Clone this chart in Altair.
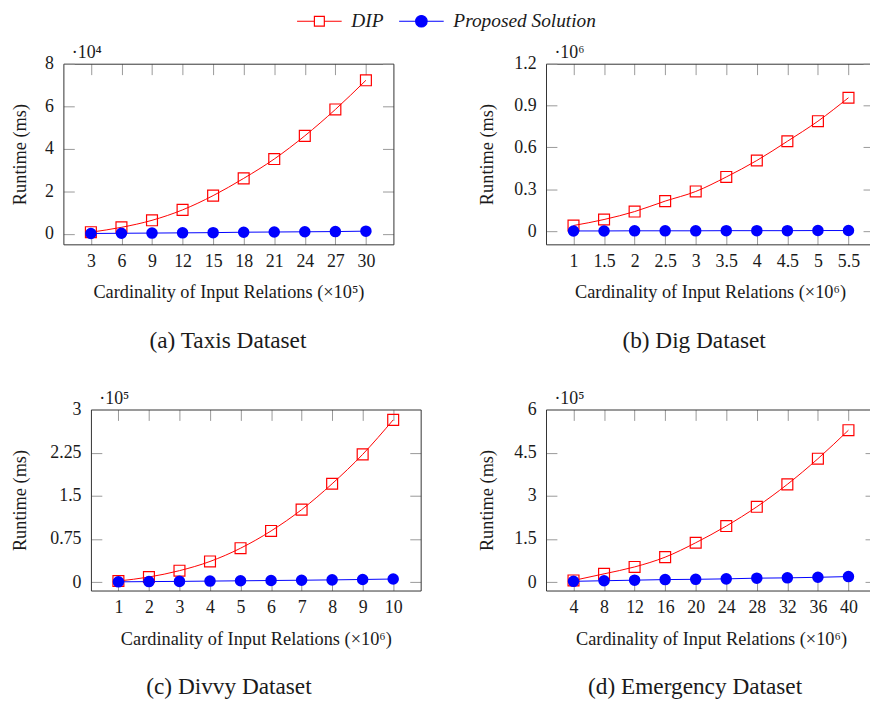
import altair as alt
import pandas as pd

SERIES = ["DIP", "Proposed Solution"]
RED = "#ff0000"
BLUE = "#0000ff"
FONT = "Liberation Serif"
TXT = "#1a1a1a"

# (a) Taxis dataset, runtime in units of 10^4 ms
taxis_x = [3, 6, 9, 12, 15, 18, 21, 24, 27, 30]
taxis_dip = [0.08, 0.31, 0.64, 1.13, 1.80, 2.61, 3.52, 4.61, 5.85, 7.22]
taxis_prop = [0.02, 0.03, 0.04, 0.05, 0.06, 0.08, 0.09, 0.10, 0.11, 0.13]

# (b) Dig dataset, runtime in units of 10^6 ms
dig_x = [1, 1.5, 2, 2.5, 3, 3.5, 4, 4.5, 5, 5.5]
dig_dip = [0.040, 0.083, 0.140, 0.215, 0.284, 0.388, 0.506, 0.644, 0.788, 0.956]
dig_prop = [0.001, 0.001, 0.002, 0.002, 0.002, 0.003, 0.003, 0.003, 0.004, 0.004]

# (c) Divvy dataset, runtime in units of 10^5 ms
divvy_x = [1, 2, 3, 4, 5, 6, 7, 8, 9, 10]
divvy_dip = [0.02, 0.09, 0.20, 0.36, 0.59, 0.89, 1.26, 1.71, 2.22, 2.82]
divvy_prop = [0.006, 0.010, 0.014, 0.019, 0.024, 0.029, 0.034, 0.040, 0.047, 0.055]

# (d) Emergency dataset, runtime in units of 10^5 ms
emerg_x = [4, 8, 12, 16, 20, 24, 28, 32, 36, 40]
emerg_dip = [0.06, 0.29, 0.53, 0.87, 1.37, 1.95, 2.62, 3.40, 4.29, 5.28]
emerg_prop = [0.03, 0.05, 0.07, 0.09, 0.10, 0.115, 0.14, 0.15, 0.17, 0.195]

# legend symbols: line with a marker (custom paths, unit = sqrt(size)/2 px)
DIP_PATH = "M-1,0H1.5M2.93,0H5.43M1.5,-0.714H2.93V0.714H1.5Z"
PROP_PATH = "M-1,0H5.43M3.04,0A0.83,0.83,0,1,1,1.38,0A0.83,0.83,0,1,1,3.04,0Z"

W, HC = 870, 697   # whole drawing area
TK = 11            # tick length (ticks point inward)


def ax(**kw):
    base = dict(grid=False, labelFont=FONT, labelFontSize=18, labelColor=TXT,
                titleFont=FONT, titleFontSize=18.5, titleFontWeight="normal",
                titleColor=TXT, tickColor="#999", tickWidth=1,
                domainColor="#333", domainWidth=1,
                labelFlush=False, labelOverlap=False)
    base.update(kw)
    return alt.Axis(**base)


def panel(xv, dip, prop, xdom, ydom, xticks, yticks, box, xexp, yexp,
          caption, cap_cx, ytitle_cx):
    L, R, T, B = box
    df = pd.DataFrame({"x": xv, "dip": dip, "prop": prop})
    c = alt.Chart(df)
    xs = alt.Scale(domain=xdom, range=[L, R], nice=False, zero=False)
    ys = alt.Scale(domain=ydom, range=[B, T], nice=False, zero=False)

    dip_line = c.mark_line(color=RED, strokeWidth=1, interpolate="monotone").encode(
        x=alt.X("x:Q", scale=xs, axis=ax(
            orient="bottom", values=xticks, format=".4~g", domain=False,
            offset=(B - TK) - HC, tickSize=TK, labelPadding=8,
            title=f"Cardinality of Input Relations (×10{xexp})",
            titleX=(L + R) / 2, titleY=TK + 54, titleAlign="center",
            titleBaseline="alphabetic")),
        y=alt.Y("dip:Q", scale=ys, axis=ax(
            orient="left", values=yticks, format=".4~g", domain=False,
            offset=-(L + TK), tickSize=TK, labelPadding=10,
            title="Runtime (ms)", titleAngle=270, titleAlign="center",
            titleBaseline="middle", titleX=ytitle_cx - (L + TK),
            titleY=(T + B) / 2)))
    dip_pts = c.mark_point(shape="square", size=121, color=RED, strokeWidth=1.2,
                           filled=False, opacity=1).encode(
        x=alt.X("x:Q", scale=xs, axis=ax(
            orient="top", values=xticks, labels=False, domain=False,
            offset=-(T + TK), tickSize=TK, title=None)),
        y=alt.Y("dip:Q", scale=ys, axis=ax(
            orient="right", values=yticks, labels=False, domain=False,
            offset=(R - TK) - W, tickSize=TK, title=f"·10{yexp}",
            titleAngle=0, titleAlign="left", titleBaseline="alphabetic",
            titleFontSize=18, titleX=(L + 8) - (R - TK), titleY=T - 6)))
    prop_line = c.mark_line(color=BLUE, strokeWidth=1).encode(
        x=alt.X("x:Q", scale=xs, axis=ax(
            orient="bottom", ticks=False, labels=False, domain=True,
            offset=B - HC, title=caption, titleFontSize=23.5,
            titleX=cap_cx, titleY=104, titleAlign="center",
            titleBaseline="alphabetic")),
        y=alt.Y("prop:Q", scale=ys, axis=ax(
            orient="left", ticks=False, labels=False, domain=True,
            offset=-L, title=None)))
    prop_pts = c.mark_circle(size=135, color=BLUE, opacity=1).encode(
        x=alt.X("x:Q", scale=xs, axis=ax(
            orient="top", ticks=False, labels=False, domain=True,
            offset=-T, title=None)),
        y=alt.Y("prop:Q", scale=ys, axis=ax(
            orient="right", ticks=False, labels=False, domain=True,
            offset=R - W, title=None)))
    return [dip_line, dip_pts, prop_line, prop_pts]


# panel frames in drawing coordinates (page minus 8px margin): left, right, top, bottom
layers = []
layers += panel(taxis_x, taxis_dip, taxis_prop, [0.3, 32.7], [-0.49, 8],
                taxis_x, [0, 2, 4, 6, 8], (55.9, 389, 53, 235.3),
                "⁵", "⁴", "(a) Taxis Dataset", 221.5, 12)
layers += panel(dig_x, dig_dip, dig_prop, [0.55, 5.917], [-0.095, 1.2],
                dig_x, [0, 0.3, 0.6, 0.9, 1.2], (543, 874, 53, 235.3),
                "⁶", "⁶", "(b) Dig Dataset", 692, 482.5)
layers += panel(divvy_x, divvy_dip, divvy_prop, [0.1, 10.9], [-0.145, 3],
                divvy_x, [0, 0.75, 1.5, 2.25, 3], (83.7, 416.5, 402, 584.7),
                "⁶", "⁵", "(c) Divvy Dataset", 222.5, 12)
layers += panel(emerg_x, emerg_dip, emerg_prop, [0.4, 43.6], [-0.29, 6],
                emerg_x, [0, 1.5, 3, 4.5, 6], (543, 876, 402, 584.7),
                "⁶", "⁵", "(d) Emergency Dataset", 693, 482.5)

leg = alt.Legend(title=None, orient="none", legendX=289, legendY=0,
                 direction="horizontal", symbolSize=196, symbolStrokeWidth=1.2,
                 symbolOpacity=1, labelFont=FONT, labelFontStyle="italic",
                 labelFontSize=19.5, labelColor=TXT, labelOffset=38,
                 columnPadding=13)
leg_df = pd.DataFrame({"series": SERIES})
legend_layer = alt.Chart(leg_df).mark_point(opacity=0, strokeWidth=1.2).encode(
    shape=alt.Shape("series:N", scale=alt.Scale(domain=SERIES, range=[DIP_PATH, PROP_PATH]), legend=leg),
    stroke=alt.Stroke("series:N", scale=alt.Scale(domain=SERIES, range=[RED, BLUE]), legend=leg),
    fill=alt.Fill("series:N", scale=alt.Scale(domain=SERIES, range=["transparent", BLUE]), legend=leg),
)
layers.append(legend_layer)

chart = alt.layer(*layers).resolve_scale(
    x="independent", y="independent"
).resolve_axis(
    x="independent", y="independent"
).properties(
    width=W, height=HC, padding=0,
    autosize=alt.AutoSizeParams(type="none")
).configure_view(stroke=None)

chart.save("out.html", embed_options={"renderer": "svg", "actions": False})
